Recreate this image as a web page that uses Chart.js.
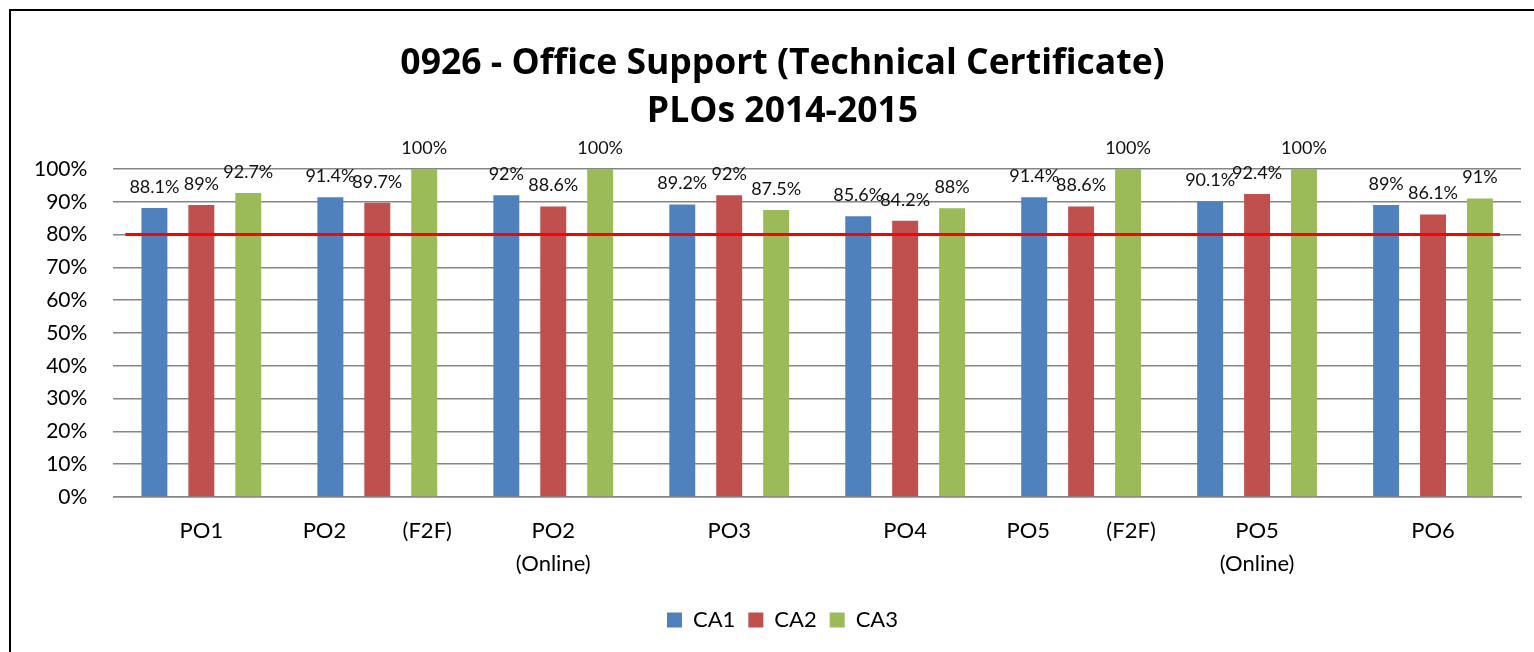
<!DOCTYPE html>
<html>
<head>
<meta charset="utf-8">
<script src="https://cdn.jsdelivr.net/npm/chart.js@4.4.1/dist/chart.umd.min.js"></script>
<style>
  html, body { margin: 0; padding: 0; background: #fff; overflow: hidden; }
  #wrap { position: absolute; left: 0; top: 0; width: 1534px; height: 652px; }
  #frame { position: absolute; left: 9px; top: 9px; width: 1560px; height: 700px;
           border: 2px solid #000; pointer-events: none; }
</style>
</head>
<body>
<div id="wrap"><canvas id="ploChart"></canvas></div>
<div id="frame"></div>
<script>
const categories = [
  "PO1",
  "PO2          (F2F)",
  ["PO2", "(Online)"],
  "PO3",
  "PO4",
  "PO5          (F2F)",
  ["PO5", "(Online)"],
  "PO6"
];
const ca1 = [88.1, 91.4, 92, 89.2, 85.6, 91.4, 90.1, 89];
const ca2 = [89, 89.7, 88.6, 92, 84.2, 88.6, 92.4, 86.1];
const ca3 = [92.7, 100, 100, 87.5, 88, 100, 100, 91];
const target = 80;
const yTicks = [0, 10, 20, 30, 40, 50, 60, 70, 80, 90, 100];

const FONT = "Lato, 'Open Sans', sans-serif";

// value labels above each bar
const barLabelPlugin = {
  id: "barLabels",
  afterDatasetsDraw(chart) {
    const { ctx } = chart;
    ctx.save();
    ctx.font = "18px " + FONT;
    ctx.fillStyle = "#111";
    ctx.textAlign = "center";
    ctx.textBaseline = "bottom";
    chart.data.datasets.forEach((ds, i) => {
      const meta = chart.getDatasetMeta(i);
      meta.data.forEach((bar, j) => {
        ctx.fillText(ds.data[j] + "%", bar.x, bar.y - 12);
      });
    });
    ctx.restore();
  }
};

// red benchmark line at 80%
const targetLinePlugin = {
  id: "targetLine",
  afterDatasetsDraw(chart) {
    const { ctx, chartArea, scales } = chart;
    const y = scales.y.getPixelForValue(target);
    ctx.save();
    ctx.strokeStyle = "#ff0000";
    ctx.lineWidth = 3;
    ctx.beginPath();
    ctx.moveTo(chartArea.left + 12, y);
    ctx.lineTo(chartArea.right - 21, y);
    ctx.stroke();
    ctx.restore();
  }
};

// title and legend sit a little right of the canvas centre in the original
const centreShiftPlugin = {
  id: "centreShift",
  afterLayout(chart) {
    [chart.titleBlock, chart.legend].forEach(box => {
      if (!box) return;
      box.left += 18;
      box.right += 18;
    });
  }
};

new Chart(document.getElementById("ploChart"), {
  type: "bar",
  data: {
    labels: categories,
    datasets: [
      { label: "CA1", data: ca1, backgroundColor: "#4f81bd" },
      { label: "CA2", data: ca2, backgroundColor: "#c0504d" },
      { label: "CA3", data: ca3, backgroundColor: "#9bbb59" }
    ]
  },
  options: {
    responsive: true,
    maintainAspectRatio: false,
    animation: false,
    categoryPercentage: 0.8,
    barPercentage: 0.553,
    layout: { padding: { top: 10, left: 8, right: 13, bottom: 11 } },
    plugins: {
      title: {
        display: true,
        text: ["0926 - Office Support (Technical Certificate)", "PLOs 2014-2015"],
        color: "#000",
        font: { family: "'Open Sans', Lato, sans-serif", size: 35.5, weight: "bold", lineHeight: 1.352 },
        padding: { top: 30, bottom: 33 }
      },
      legend: {
        position: "bottom",
        labels: {
          boxWidth: 15,
          boxHeight: 15,
          padding: 13,
          color: "#000",
          font: { family: FONT, size: 22 }
        }
      },
      tooltip: { enabled: false }
    },
    scales: {
      x: {
        grid: { display: false },
        border: { display: true, color: "#868686", width: 1.5 },
        afterFit(axis) { axis.height += 7; },
        ticks: {
          color: "#000",
          font: { family: FONT, size: 22, lineHeight: 1.5 },
          padding: 9,
          maxRotation: 0,
          autoSkip: false
        }
      },
      y: {
        min: 0,
        max: 100,
        afterBuildTicks(axis) { axis.ticks = yTicks.map(v => ({ value: v })); },
        grid: { color: "#868686", lineWidth: 1.5, drawTicks: false },
        border: { display: false },
        ticks: {
          color: "#000",
          font: { family: FONT, size: 21 },
          padding: 26,
          callback: v => v + "%"
        }
      }
    }
  },
  plugins: [barLabelPlugin, targetLinePlugin, centreShiftPlugin]
});
</script>
</body>
</html>
